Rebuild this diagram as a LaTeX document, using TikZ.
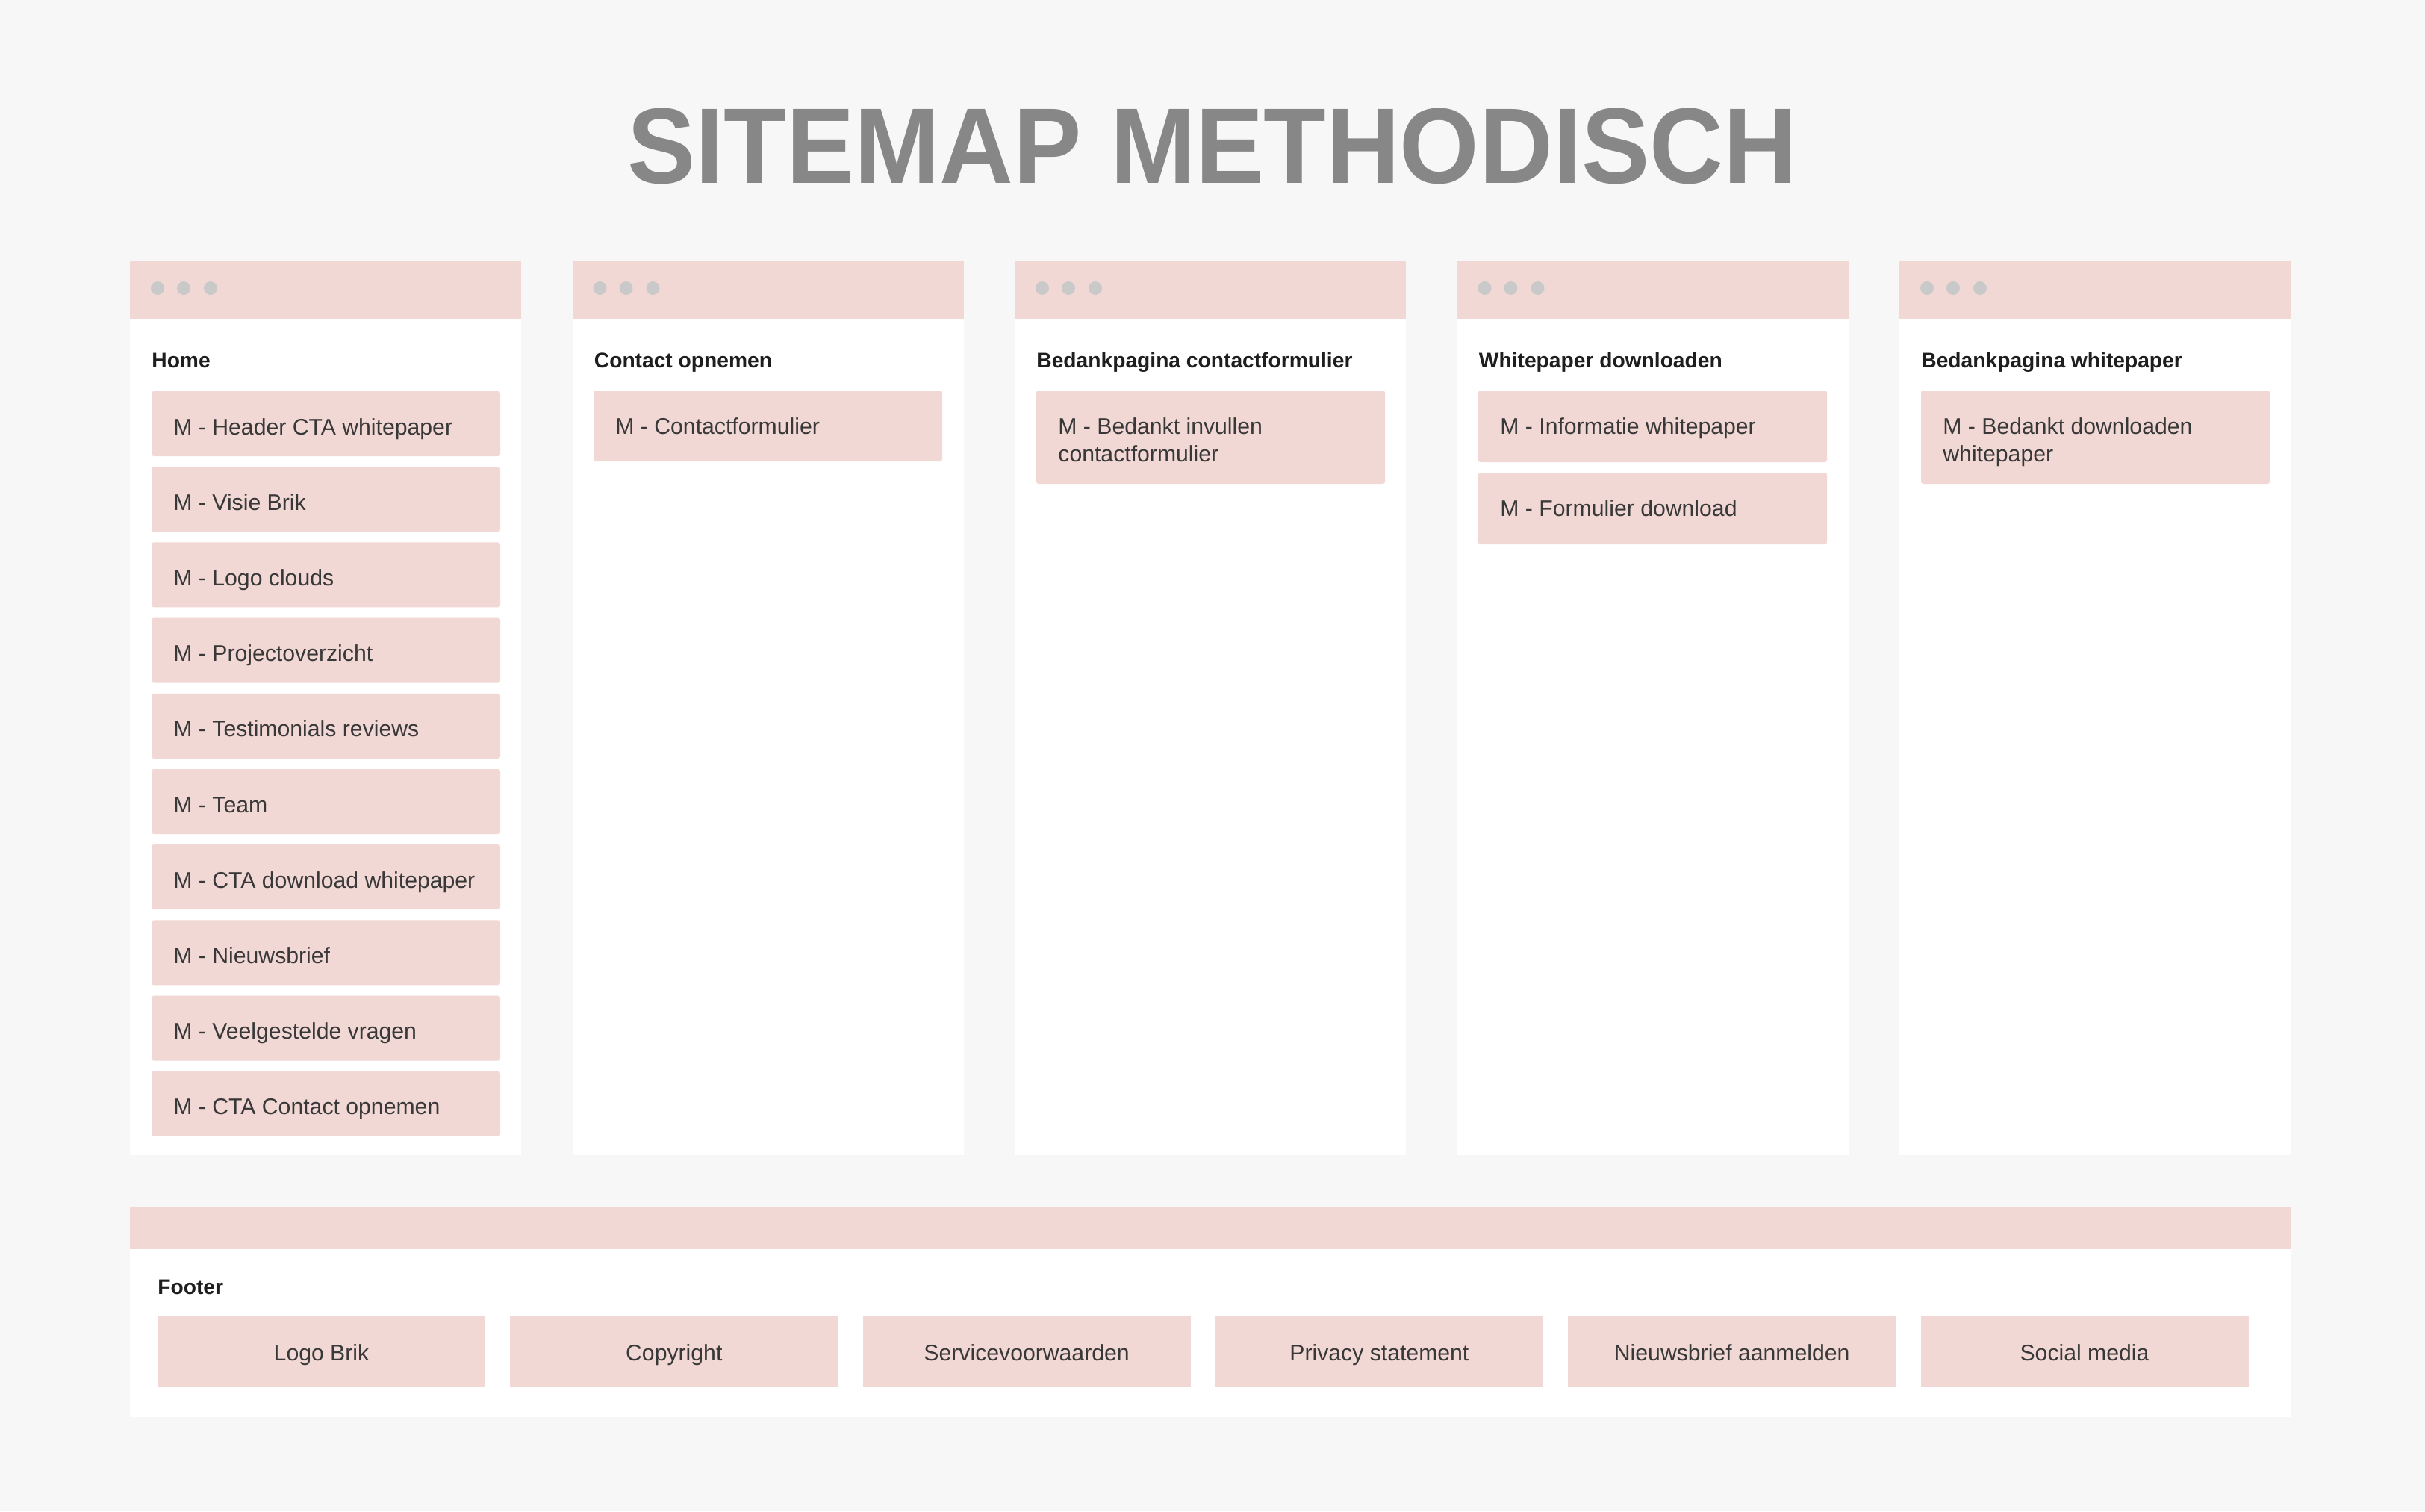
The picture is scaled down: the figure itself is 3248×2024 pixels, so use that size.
\documentclass[tikz,border=0pt]{standalone}
\usepackage{fontspec}
\setmainfont{Liberation Sans}
\definecolor{bgc}{HTML}{F7F7F7}
\definecolor{pinkc}{HTML}{F2D8D4}
\definecolor{dotc}{HTML}{C9C9C9}
\definecolor{titlec}{HTML}{878787}
\definecolor{headc}{HTML}{1E1E1E}
\definecolor{modc}{HTML}{383838}
\newcommand\modbox[5]{%
  \fill[pinkc, rounded corners=1.5pt] (#2,#3) rectangle ++(467,#4);
  \node[modtext] (#1) at (#2+29,#3+58) {#5};}
\newcommand\modboxtwo[6]{%
  \fill[pinkc, rounded corners=1.5pt] (#2,#3) rectangle ++(467,#4);
  \node[modtext] (#1a) at (#2+29,#3+58) {#5};
  \node[modtext] (#1b) at (#2+29,#3+95) {#6};}
\begin{document}
\begin{tikzpicture}[x=0.5pt,y=-0.5pt,
  modtext/.style={anchor=base west, inner sep=0pt, text=modc, font=\fontsize{15.1}{18}\selectfont},
  headtext/.style={anchor=base west, inner sep=0pt, text=headc, font=\bfseries\fontsize{14.1}{17}\selectfont},
  foottext/.style={anchor=base, inner sep=0pt, text=modc, font=\fontsize{15.1}{18}\selectfont}]
\fill[bgc] (0,0) rectangle (3248,2024);
\useasboundingbox (0,0) rectangle (3248,2024);

\node[anchor=base, inner sep=0pt, text=titlec, font=\bfseries\fontsize{72}{80}\selectfont] (title) at (1624,245) {\scalebox{0.951}[1]{SITEMAP METHODISCH}};

% columns
\foreach \i/\hd in {1/Home, 2/Contact opnemen, 3/Bedankpagina contactformulier, 4/Whitepaper downloaden, 5/Bedankpagina whitepaper}{
  \pgfmathsetmacro\cx{174+(\i-1)*592.5}
  \fill[white] (\cx,427) rectangle (\cx+524,1547);
  \fill[pinkc] (\cx,350) rectangle (\cx+524,427);
  \foreach \d in {37,72,108}{ \fill[dotc] (\cx+\d,386) circle (9); }
  \node[headtext] (head\i) at (\cx+29,492) {\hd};
}

% column 1: Home
\foreach \j/\t in {1/M - Header CTA whitepaper, 2/M - Visie Brik, 3/M - Logo clouds, 4/M - Projectoverzicht, 5/M - Testimonials reviews, 6/M - Team, 7/M - CTA download whitepaper, 8/M - Nieuwsbrief, 9/M - Veelgestelde vragen, 10/M - CTA Contact opnemen}{
  \pgfmathsetmacro\ty{524+(\j-1)*101.2}
  \modbox{home\j}{203}{\ty}{87}{\t}
}
% column 2
\modbox{contact1}{795}{523}{95}{M - Contactformulier}
% column 3
\modboxtwo{bedankc1}{1388}{523}{125}{M - Bedankt invullen}{contactformulier}
% column 4
\modbox{white1}{1980}{523}{96}{M - Informatie whitepaper}
\modbox{white2}{1980}{633}{96}{M - Formulier download}
% column 5
\modboxtwo{bedankw1}{2573}{523}{125}{M - Bedankt downloaden}{whitepaper}

% footer
\fill[pinkc] (174,1616) rectangle (3068,1673);
\fill[white] (174,1673) rectangle (3068,1898);
\node[headtext] (footer) at (211,1733) {Footer};
\foreach \k/\t in {1/Logo Brik, 2/Copyright, 3/Servicevoorwaarden, 4/Privacy statement, 5/Nieuwsbrief aanmelden, 6/Social media}{
  \pgfmathsetmacro\fx{211+(\k-1)*472.3}
  \fill[pinkc] (\fx,1762) rectangle (\fx+439,1858);
  \node[foottext] (foot\k) at (\fx+219.5,1822) {\t};
}
\end{tikzpicture}
\end{document}
